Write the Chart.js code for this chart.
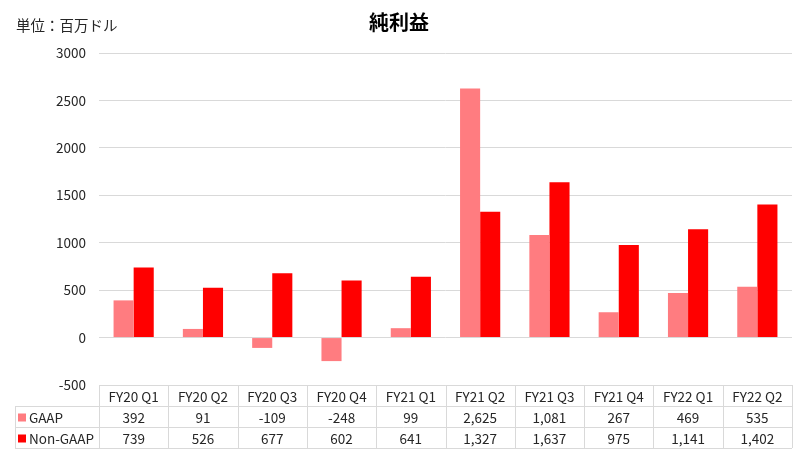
<!DOCTYPE html>
<html>
<head>
    <meta charset="utf-8">
    <title>純利益</title>
    <script src="https://cdn.jsdelivr.net/npm/chart.js"></script>
    <style>
        body { margin: 0; background: #fff; }
        canvas { display: block; }
    </style>
</head>
<body>
    <canvas id="netIncome" width="800" height="450"></canvas>
    <script>
        // ------------- Data -------------
        const quarters = ['FY20 Q1', 'FY20 Q2', 'FY20 Q3', 'FY20 Q4', 'FY21 Q1',
                          'FY21 Q2', 'FY21 Q3', 'FY21 Q4', 'FY22 Q1', 'FY22 Q2'];
        const gaap = [392, 91, -109, -248, 99, 2625, 1081, 267, 469, 535];
        const nonGaap = [739, 526, 677, 602, 641, 1327, 1637, 975, 1141, 1402];
        const seriesNames = ['GAAP', 'Non-GAAP'];
        const seriesColors = ['#FF7C80', '#FF0000'];

        const FONT = '"Noto Sans CJK JP", "Noto Sans", sans-serif';
        const fmt = v => v.toLocaleString('en-US');

        // ------------- Title + data table plugin -------------
        const tablePlugin = {
            id: 'dataTable',
            afterDraw(chart) {
                const ctx = chart.ctx;
                const x = chart.scales.x;
                const area = chart.chartArea;
                const n = quarters.length;
                const colW = (area.right - area.left) / n;
                const rowH = 21;
                const top = area.bottom;
                const legendLeft = 15;

                ctx.save();
                // title and unit
                ctx.fillStyle = '#000';
                ctx.textBaseline = 'middle';
                ctx.textAlign = 'center';
                ctx.font = 'bold 20px ' + FONT;
                ctx.fillText('純利益', 399, 22);
                ctx.textAlign = 'left';
                ctx.font = '14.5px ' + FONT;
                ctx.fillStyle = '#262626';
                ctx.fillText('単位：百万ドル', 16, 25);

                // grid lines of the table
                ctx.strokeStyle = '#d9d9d9';
                ctx.lineWidth = 1;
                ctx.beginPath();
                ctx.moveTo(area.left, top + 0.5);
                ctx.lineTo(area.right, top + 0.5);
                for (let r = 1; r <= 3; r++) {
                    const yy = Math.round(top + r * rowH) + 0.5;
                    ctx.moveTo(legendLeft, yy);
                    ctx.lineTo(area.right, yy);
                }
                for (let i = 0; i <= n; i++) {
                    const xx = Math.round(area.left + i * colW) + 0.5;
                    ctx.moveTo(xx, top);
                    ctx.lineTo(xx, top + 3 * rowH);
                }
                ctx.moveTo(legendLeft + 0.5, top + rowH);
                ctx.lineTo(legendLeft + 0.5, top + 3 * rowH);
                ctx.stroke();

                // header + values
                ctx.fillStyle = '#262626';
                ctx.textAlign = 'center';
                ctx.font = '13.5px ' + FONT;
                const rows = [gaap, nonGaap];
                quarters.forEach((q, i) => {
                    const cx = x.getPixelForValue(i);
                    ctx.fillText(q, cx, top + rowH / 2 + 1);
                    rows.forEach((vals, r) => {
                        ctx.fillText(fmt(vals[i]), cx, top + (r + 1.5) * rowH + 1);
                    });
                });

                // legend keys
                ctx.textAlign = 'left';
                seriesNames.forEach((name, r) => {
                    const cy = top + (r + 1.5) * rowH;
                    ctx.fillStyle = seriesColors[r];
                    ctx.fillRect(legendLeft + 3, cy - 3, 8, 8);
                    ctx.fillStyle = '#262626';
                    ctx.fillText(name, legendLeft + 14, cy + 1);
                });
                ctx.restore();
            }
        };

        // ------------- Chart -------------
        const chartCtx = document.getElementById('netIncome').getContext('2d');
        const netChart = new Chart(chartCtx, {
            type: 'bar',
            data: {
                labels: quarters,
                datasets: [
                    { label: seriesNames[0], data: gaap, backgroundColor: seriesColors[0] },
                    { label: seriesNames[1], data: nonGaap, backgroundColor: seriesColors[1] }
                ]
            },
            options: {
                responsive: false,
                animation: false,
                layout: { padding: { top: 53, right: 8, bottom: 65, left: 0 } },
                datasets: {
                    bar: { categoryPercentage: 0.58, barPercentage: 1.0 }
                },
                scales: {
                    x: { display: false },
                    y: {
                        min: -500,
                        max: 3000,
                        border: { display: false },
                        grid: { color: '#d9d9d9', drawTicks: false },
                        ticks: {
                            stepSize: 500,
                            padding: 13,
                            color: '#262626',
                            font: { family: FONT, size: 13.5 },
                            callback: v => String(v)
                        },
                        afterFit(scale) { scale.width = 99; }
                    }
                },
                plugins: {
                    legend: { display: false },
                    tooltip: { enabled: false }
                }
            },
            plugins: [tablePlugin]
        });
    </script>
</body>
</html>
